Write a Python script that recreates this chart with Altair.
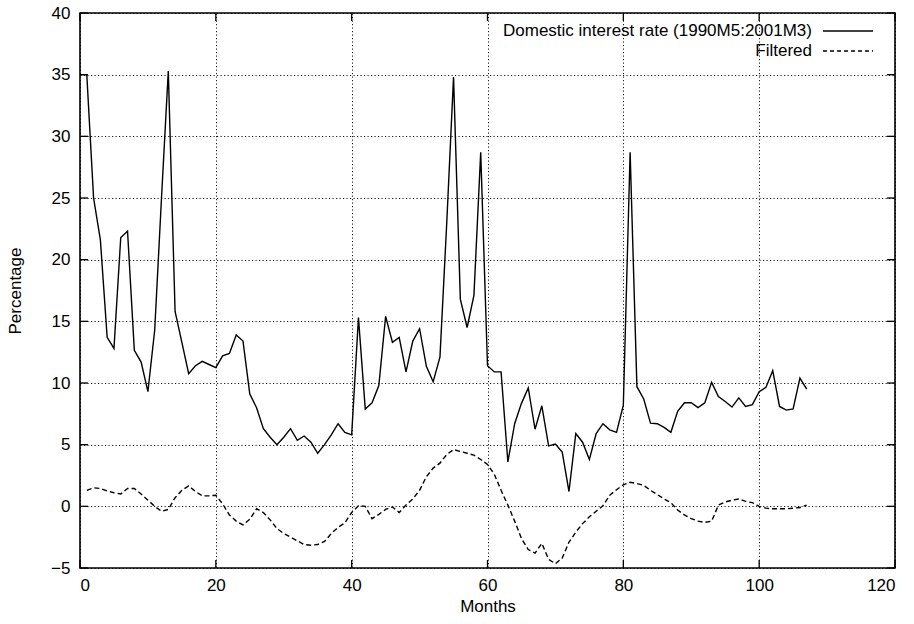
import altair as alt
import pandas as pd

# Domestic interest rate, monthly (percent)
rate_months = list(range(0, 108))
domestic_rate = [
    35.0, 35.0, 25.0, 21.6, 13.7, 12.8, 21.8, 22.3, 12.65, 11.7,
    9.3, 14.3, 25.0, 35.3, 15.8, 13.3, 10.75, 11.4, 11.75, 11.5,
    11.25, 12.2, 12.4, 13.9, 13.4, 9.1, 8.0, 6.3, 5.6, 5.0,
    5.6, 6.3, 5.35, 5.7, 5.2, 4.3, 5.0, 5.8, 6.7, 6.0,
    5.8, 15.3, 7.9, 8.4, 9.8, 15.4, 13.3, 13.7, 10.9, 13.4,
    14.4, 11.35, 10.1, 12.1, 23.0, 34.8, 16.8, 14.5, 17.1, 28.7,
    11.4, 10.9, 10.9, 3.6, 6.7, 8.35, 9.6, 6.25, 8.15, 4.9,
    5.05, 4.4, 1.2, 5.9, 5.2, 3.8, 5.9, 6.7, 6.2, 6.0,
    8.2, 28.7, 9.7, 8.7, 6.75, 6.7, 6.4, 6.0, 7.7, 8.4,
    8.4, 8.0, 8.4, 10.05, 8.9, 8.5, 8.05, 8.8, 8.1, 8.25,
    9.3, 9.65, 11.0, 8.1, 7.8, 7.9, 10.4, 9.5,
]

# Filtered component
filtered_months = list(range(1, 108))
filtered_rate = [
    1.3, 1.5, 1.45, 1.25, 1.1, 1.0, 1.45, 1.45, 1.0,
    0.5, 0.0, -0.4, -0.25, 0.7, 1.3, 1.65, 1.2, 0.85, 0.85,
    0.9, 0.2, -0.7, -1.2, -1.5, -1.05, -0.2, -0.5, -1.1, -1.8,
    -2.2, -2.5, -2.8, -3.1, -3.15, -3.1, -2.85, -2.2, -1.7, -1.35,
    -0.5, 0.05, 0.0, -1.0, -0.65, -0.25, -0.05, -0.5, 0.1, 0.6,
    1.3, 2.4, 3.1, 3.5, 4.2, 4.6, 4.45, 4.3, 4.15, 3.8,
    3.4, 2.6, 1.3, 0.1, -1.2, -2.6, -3.5, -3.8, -3.0, -4.3,
    -4.65, -4.2, -2.9, -2.1, -1.4, -0.85, -0.4, 0.05, 0.9, 1.35,
    1.75, 1.95, 1.85, 1.7, 1.3, 0.95, 0.6, 0.3, -0.3, -0.7,
    -1.0, -1.2, -1.3, -1.2, 0.1, 0.35, 0.5, 0.6, 0.4, 0.3,
    0.0, -0.15, -0.2, -0.2, -0.2, -0.15, -0.1, 0.1,
]

x_ticks = [0, 20, 40, 60, 80, 100, 120]
y_ticks = [-5, 0, 5, 10, 15, 20, 25, 30, 35, 40]
legend_labels = ["Domestic interest rate (1990M5:2001M3)", "Filtered"]

W, H = 815, 555
FONT = "Liberation Sans"
TICK = 8

xs = alt.Scale(domain=[0, 120], nice=False, zero=False)
ys = alt.Scale(domain=[-5, 40], nice=False, zero=False)

df_rate = pd.DataFrame({"month": rate_months, "value": domestic_rate})
df_filt = pd.DataFrame({"month": filtered_months, "value": filtered_rate})
df_xt = pd.DataFrame({"month": x_ticks})
df_yt = pd.DataFrame({"value": y_ticks})

x_axis = alt.Axis(
    values=x_ticks, grid=True, gridColor="black", gridDash=[1.2, 2.3],
    gridWidth=1, gridOpacity=0.9, ticks=False, domain=False,
    labelFont=FONT, labelFontSize=17, labelColor="black", labelPadding=9,
    title="Months", titleFont=FONT, titleFontSize=17, titleFontWeight="normal",
    titleColor="black", titlePadding=5,
)
y_axis = alt.Axis(
    values=y_ticks, grid=True, gridColor="black", gridDash=[1.2, 2.3],
    gridWidth=1, gridOpacity=0.9, ticks=False, domain=False,
    labelFont=FONT, labelFontSize=17, labelColor="black", labelPadding=10,
    title="Percentage", titleFont=FONT, titleFontSize=17,
    titleFontWeight="normal", titleColor="black",
    titleX=-65, titleY=H / 2, titleAlign="center", titleBaseline="middle",
)

X = alt.X("month:Q", scale=xs, axis=x_axis)
Y = alt.Y("value:Q", scale=ys, axis=y_axis)

rate_line = alt.Chart(df_rate).mark_line(
    color="black", strokeWidth=1.4, interpolate="linear"
).encode(x=X, y=Y)

filt_line = alt.Chart(df_filt).mark_line(
    color="black", strokeWidth=1.4, strokeDash=[5, 3]
).encode(x=X, y=Y)

# inward tick marks on all four sides of the frame
tick_style = dict(color="black", strokeWidth=1.3)
left_ticks = alt.Chart(df_yt).mark_rule(**tick_style).encode(
    y=Y, x=alt.value(0), x2=alt.value(TICK)
)
right_ticks = alt.Chart(df_yt).mark_rule(**tick_style).encode(
    y=Y, x=alt.value(W - TICK), x2=alt.value(W)
)
bottom_ticks = alt.Chart(df_xt).mark_rule(**tick_style).encode(
    x=X, y=alt.value(H - TICK), y2=alt.value(H)
)
top_ticks = alt.Chart(df_xt).mark_rule(**tick_style).encode(
    x=X, y=alt.value(0), y2=alt.value(TICK)
)

# key in the upper right corner
key_text_x, key_line_x0, key_line_x1 = 732, 743, 793
key_rows = [18, 38]
key_font = dict(align="right", baseline="middle", font=FONT, fontSize=17, color="black")
key1 = alt.Chart(pd.DataFrame({"label": [legend_labels[0]]})).mark_text(**key_font).encode(
    text="label:N", x=alt.value(key_text_x), y=alt.value(key_rows[0])
)
key2 = alt.Chart(pd.DataFrame({"label": [legend_labels[1]]})).mark_text(**key_font).encode(
    text="label:N", x=alt.value(key_text_x), y=alt.value(key_rows[1])
)
key1_line = alt.Chart(pd.DataFrame({"label": [legend_labels[0]]})).mark_rule(
    color="black", strokeWidth=1.3
).encode(x=alt.value(key_line_x0), x2=alt.value(key_line_x1), y=alt.value(key_rows[0]))
key2_line = alt.Chart(pd.DataFrame({"label": [legend_labels[1]]})).mark_rule(
    color="black", strokeWidth=1.3, strokeDash=[4, 3]
).encode(x=alt.value(key_line_x0), x2=alt.value(key_line_x1), y=alt.value(key_rows[1]))

chart = alt.layer(
    rate_line, filt_line, left_ticks, right_ticks, bottom_ticks, top_ticks,
    key1, key2, key1_line, key2_line,
).properties(
    width=W, height=H,
    padding={"left": 80, "top": 13, "right": 19, "bottom": 56},
    autosize=alt.AutoSizeParams(type="none"),
    background="white",
).configure_view(stroke="black", strokeWidth=1.6)

chart.save("out.html", embed_options={"renderer": "svg", "actions": False})
